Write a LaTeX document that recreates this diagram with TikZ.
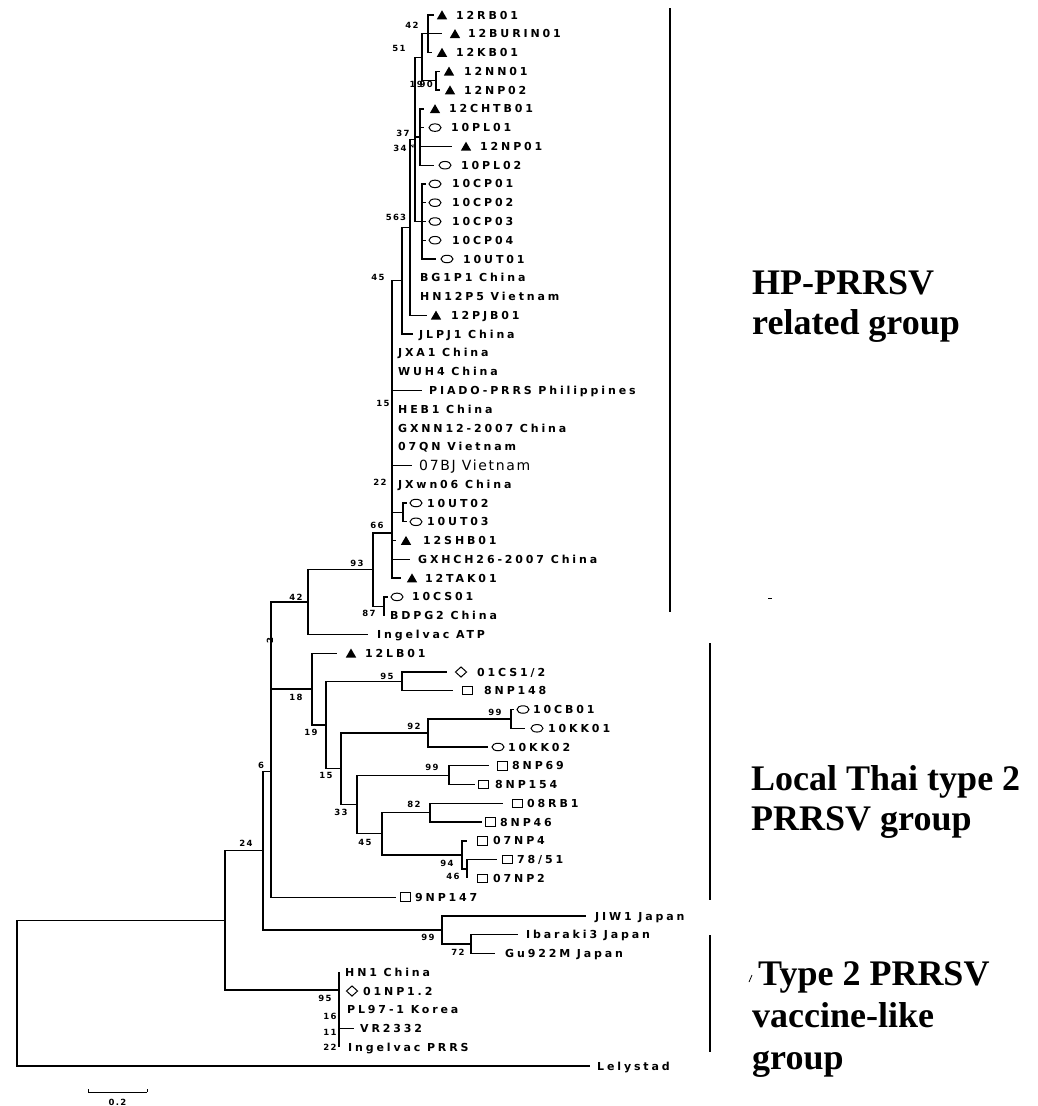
\documentclass[tikz,border=0pt]{standalone}
\usepackage{fontspec}
\setmainfont{Liberation Serif}
\newfontfamily\lff[LetterSpace=26]{DejaVu Sans Bold}
\newfontfamily\lfbig[LetterSpace=12]{DejaVu Sans}
\newfontfamily\bsf[LetterSpace=15]{DejaVu Sans Bold}
\usetikzlibrary{shapes.geometric}
\newcommand\lfm[7]{\coordinate (#1) at (#2,#3);\node[#4] (#1m) at (#5,#3) {};\node[lbl] (#1t) at (#6,#3) {#7};}
\newcommand\lfp[5]{\coordinate (#1) at (#2,#3);\node[lbl] (#1t) at (#4,#3) {#5};}
\begin{document}
\begin{tikzpicture}[x=1pt,y=-1pt,
 br/.style={line width=1.3pt},
 bar/.style={line width=1.3pt},
 lbl/.style={font=\lff\fontsize{11}{13}\selectfont, anchor=base west, inner sep=0pt, yshift=-4pt},
 lblbig/.style={font=\lfbig\fontsize{14}{16}\selectfont, anchor=base west, inner sep=0pt, yshift=-5.1pt},
 bs/.style={font=\bsf\fontsize{8.5}{10}\selectfont, inner sep=0pt},
 tri/.style={regular polygon, regular polygon sides=3, fill=black, inner sep=0pt, minimum size=12pt, yshift=-1.3pt},
 circ/.style={ellipse, draw, line width=1pt, minimum width=12pt, minimum height=7.5pt, inner sep=0pt},
 sq/.style={rectangle, draw, line width=1pt, minimum width=10pt, minimum height=8.5pt, inner sep=0pt},
 dia/.style={diamond, draw, line width=1pt, minimum width=11.5pt, minimum height=10.5pt, inner sep=0pt},
 grp/.style={font=\bfseries\fontsize{36}{40}\selectfont, anchor=base west, inner sep=0pt, align=left}
]
\useasboundingbox (0,0) rectangle (1037,1106);
% ---- leaves
\lfm{l1}{434}{15.0}{tri}{442}{456}{12RB01}
\lfm{l2}{442}{33.8}{tri}{455}{468}{12BURIN01}
\lfm{l3}{432}{52.5}{tri}{442}{456}{12KB01}
\lfm{l4}{440}{71.3}{tri}{449}{464}{12NN01}
\lfm{l5}{440}{90.1}{tri}{450}{464}{12NP02}
\lfm{l6}{424}{108.9}{tri}{435}{449}{12CHTB01}
\lfm{l7}{424}{127.6}{circ}{435}{451}{10PL01}
\lfm{l8}{452}{146.4}{tri}{466}{480}{12NP01}
\lfm{l9}{434}{165.2}{circ}{445}{461}{10PL02}
\lfm{l10}{426}{183.9}{circ}{435}{452}{10CP01}
\lfm{l11}{426}{202.7}{circ}{435}{452}{10CP02}
\lfm{l12}{426}{221.5}{circ}{435}{452}{10CP03}
\lfm{l13}{426}{240.2}{circ}{435}{452}{10CP04}
\lfm{l14}{436}{259.0}{circ}{447}{463}{10UT01}
\lfp{l15}{410}{277.8}{420}{BG1P1 China}
\lfp{l16}{410}{296.6}{420}{HN12P5 Vietnam}
\lfm{l17}{427}{315.3}{tri}{436}{451}{12PJB01}
\lfp{l18}{413}{334.1}{419}{JLPJ1 China}
\lfp{l19}{392}{352.9}{398}{JXA1 China}
\lfp{l20}{392}{371.6}{398}{WUH4 China}
\lfp{l21}{422}{390.4}{429}{PIADO-PRRS Philippines}
\lfp{l22}{392}{409.2}{398}{HEB1 China}
\lfp{l23}{392}{428.0}{398}{GXNN12-2007 China}
\lfp{l24}{392}{446.7}{398}{07QN Vietnam}
\coordinate (l25) at (412,465.5); \node[lblbig] (l25t) at (419,465.5) {07BJ Vietnam};
\lfp{l26}{392}{484.3}{398}{JXwn06 China}
\lfm{l27}{407}{503.0}{circ}{416}{427}{10UT02}
\lfm{l28}{407}{521.8}{circ}{416}{427}{10UT03}
\lfm{l29}{396}{540.6}{tri}{406}{423}{12SHB01}
\lfp{l30}{410}{559.3}{418}{GXHCH26-2007 China}
\lfm{l31}{401}{578.1}{tri}{412}{425}{12TAK01}
\lfm{l32}{388}{596.9}{circ}{397}{412}{10CS01}
\lfp{l33}{384}{615.6}{390}{BDPG2 China}
\lfp{l34}{368}{634.4}{377}{Ingelvac ATP}
\lfm{l35}{337}{653.2}{tri}{351}{365}{12LB01}
\lfm{l36}{447}{672.0}{dia}{461}{477}{01CS1/2}
\lfm{l37}{453}{690.7}{sq}{467}{484}{8NP148}
\lfm{l38}{514}{709.5}{circ}{523}{533}{10CB01}
\lfm{l39}{525}{728.3}{circ}{537}{548}{10KK01}
\lfm{l40}{488}{747.0}{circ}{498}{508}{10KK02}
\lfm{l41}{489}{765.8}{sq}{502}{512}{8NP69}
\lfm{l42}{475}{784.6}{sq}{483}{495}{8NP154}
\lfm{l43}{503}{803.3}{sq}{517}{527}{08RB1}
\lfm{l44}{482}{822.1}{sq}{490}{500}{8NP46}
\lfm{l45}{467}{840.9}{sq}{482}{493}{07NP4}
\lfm{l46}{497}{859.7}{sq}{507}{517}{78/51}
\lfm{l47}{467}{878.4}{sq}{482}{493}{07NP2}
\lfm{l48}{396}{897.2}{sq}{405}{415}{9NP147}
\lfp{l49}{586}{916.0}{595}{JIW1 Japan}
\lfp{l50}{518}{934.7}{526}{Ibaraki3 Japan}
\lfp{l51}{495}{953.5}{505}{Gu922M Japan}
\lfp{l52}{339}{972.3}{345}{HN1 China}
\lfm{l53}{339}{991.0}{dia}{352}{363}{01NP1.2}
\lfp{l54}{339}{1009.8}{347}{PL97-1 Korea}
\lfp{l55}{354}{1028.6}{360}{VR2332}
\lfp{l56}{339}{1047.4}{348}{Ingelvac PRRS}
\lfp{l57}{590}{1066.1}{597}{Lelystad}
% ---- internal nodes
\coordinate (N42) at (428,33.8);
\coordinate (N90) at (436,80.7);
\coordinate (N51) at (422,57.2);
\coordinate (N37) at (420,137.0);
\coordinate (NCP) at (422,221.5);
\coordinate (N34) at (415,139.3);
\coordinate (N563) at (410,227.3);
\coordinate (N45) at (402,280.7);
\coordinate (N66) at (392,533);
\coordinate (N10UT) at (403,512.4);
\coordinate (N87) at (384,606.2);
\coordinate (N93) at (373,569.6);
\coordinate (N42b) at (308,602.0);
\coordinate (N2) at (271,645.6);
\coordinate (N6) at (271,771.4);
\coordinate (N18) at (312,689.1);
\coordinate (N19b) at (326,725.0);
\coordinate (N95b) at (402,681.4);
\coordinate (N15b) at (341,768.7);
\coordinate (N92) at (428,733.0);
\coordinate (N99b) at (511,718.9);
\coordinate (N33) at (357,804.5);
\coordinate (N99c) at (449,775.2);
\coordinate (N45b) at (382,833.8);
\coordinate (N82) at (430,812.7);
\coordinate (N94) at (462,855.0);
\coordinate (N46) at (467,869.0);
\coordinate (N24) at (263,850.8);
\coordinate (NJ) at (442,930.1);
\coordinate (N72) at (471,944.1);
\coordinate (NA) at (225,920.3);
\coordinate (N95v) at (339,989.9);
\coordinate (NR) at (17,993.2);
% ---- branches
\foreach \p/\c in {NR/NA, NR/l57, NA/N24, NA/N95v, N24/N6, N24/NJ, N6/N2, N6/l48,
  N2/N42b, N2/N18, N42b/N93, N42b/l34, N93/N66, N93/N87, N87/l32, N87/l33,
  N66/N45, N66/l19, N66/l20, N66/l21, N66/l22, N66/l23, N66/l24, N66/l25, N66/l26,
  N66/N10UT, N66/l29, N66/l30, N66/l31, N10UT/l27, N10UT/l28,
  N45/N563, N45/l18, N563/N34, N563/l15, N563/l16, N563/l17,
  N34/N51, N34/N37, N34/NCP, N51/N42, N51/N90, N42/l1, N42/l2, N42/l3, N90/l4, N90/l5,
  N37/l6, N37/l7, N37/l8, N37/l9, NCP/l10, NCP/l11, NCP/l12, NCP/l13, NCP/l14,
  N18/l35, N18/N19b, N19b/N95b, N19b/N15b, N95b/l36, N95b/l37, N15b/N92, N15b/N33,
  N92/N99b, N92/l40, N99b/l38, N99b/l39, N33/N99c, N33/N45b, N99c/l41, N99c/l42,
  N45b/N82, N45b/N94, N82/l43, N82/l44, N94/l45, N94/N46, N46/l46, N46/l47,
  NJ/l49, NJ/N72, N72/l50, N72/l51,
  N95v/l52, N95v/l53, N95v/l54, N95v/l55, N95v/l56}
  \draw[br] (\p) |- (\c);
% ---- bootstrap values
\node[bs] (b42) at (412,25) {42};
\node[bs] (b51) at (399,48) {51};
\node[bs, anchor=east] (b19) at (423,84) {19};
\node[bs, anchor=east] (b90) at (433,84) {90};
\node[bs] (b37) at (403,133) {37};
\node[bs] (b34) at (400,148) {34};
\node[bs, rotate=90, font=\bsf\fontsize{6}{7}\selectfont] (b34x) at (411.5,146) {2};
\node[bs] (b563) at (396,217) {563};
\node[bs] (b45) at (378,277) {45};
\node[bs] (b15) at (383,403) {15};
\node[bs] (b22) at (380,482) {22};
\node[bs] (b66) at (377,525) {66};
\node[bs] (b93) at (357,563) {93};
\node[bs] (b87) at (369,613) {87};
\node[bs] (b42b) at (296,597) {42};
\node[bs, rotate=90] (b2) at (270,641) {2};
\node[bs] (b18) at (296,697) {18};
\node[bs] (b19b) at (311,732) {19};
\node[bs] (b95b) at (387,676) {95};
\node[bs] (b99b) at (495,712) {99};
\node[bs] (b92) at (414,726) {92};
\node[bs] (b15b) at (326,775) {15};
\node[bs] (b6) at (261,765) {6};
\node[bs] (b99c) at (432,767) {99};
\node[bs] (b33) at (341,812) {33};
\node[bs] (b82) at (414,804) {82};
\node[bs] (b45b) at (365,842) {45};
\node[bs] (b24) at (246,843) {24};
\node[bs] (b94) at (447,863) {94};
\node[bs] (b46) at (453,876) {46};
\node[bs] (b99j) at (428,937) {99};
\node[bs] (b72) at (458,952) {72};
\node[bs] (b95v) at (325,998) {95};
\node[bs] (b16) at (330,1016) {16};
\node[bs] (b11) at (330,1032) {11};
\node[bs] (b22v) at (330,1047) {22};
% ---- scale bar
\coordinate (sb1) at (88,1092);
\coordinate (sb2) at (147,1092);
\draw[line width=1pt] (sb1) -- (sb2);
\draw[line width=0.8pt] (sb1) -- ++(0,-3) (sb2) -- ++(0,-3);
\node[bs] (sbl) at (117.5,1102) {0.2};
% ---- group bars
\coordinate (g1t) at (670,8);   \coordinate (g1b) at (670,612);
\coordinate (g2t) at (710,643); \coordinate (g2b) at (710,900);
\coordinate (g3t) at (710,935); \coordinate (g3b) at (710,1052);
\draw[bar] (g1t) -- (g1b);
\draw[bar] (g2t) -- (g2b);
\draw[bar] (g3t) -- (g3b);
% ---- group labels
\node[grp] (g1) at (752,334) {HP-PRRSV\\related group};
\node[grp] (g2) at (751,830) {Local Thai type 2\\PRRSV group};
\node[grp] (g3a) at (758,985) {Type 2 PRRSV};
\node[grp] (g3b) at (752,1027) {vaccine-like};
\node[grp] (g3c) at (752,1069) {group};
% small marks
\coordinate (m1a) at (749,982); \coordinate (m1b) at (752,975);
\draw[line width=0.8pt] (m1a) -- (m1b);
\coordinate (m2a) at (768,598); \coordinate (m2b) at (772,598);
\draw[line width=0.8pt] (m2a) -- (m2b);
\end{tikzpicture}
\end{document}
